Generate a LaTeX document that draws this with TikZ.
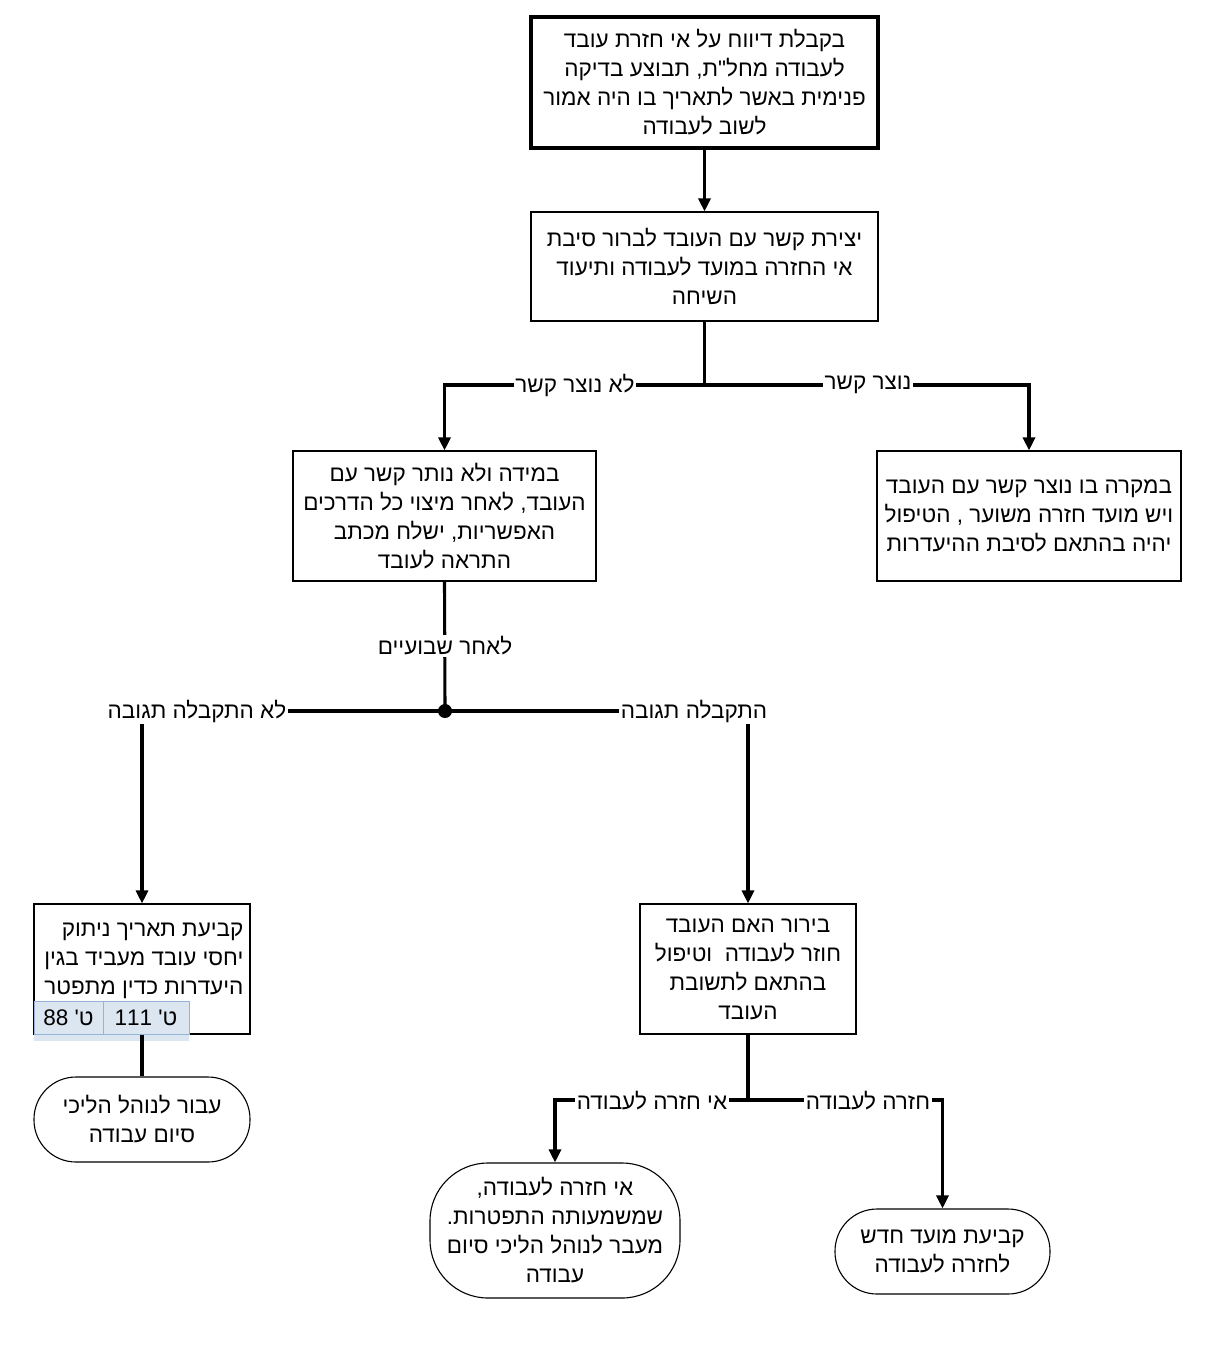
\documentclass[tikz,border=0pt]{standalone}
\usepackage{fontspec}
\usetikzlibrary{arrows.meta}
\TeXXeTstate=1
\newfontfamily\hebfont[Script=Hebrew]{Liberation Sans}
\newcommand{\hebline}[1]{{\beginR #1\endR}}
\definecolor{cellfill}{HTML}{DCE6F1}
\definecolor{celldraw}{HTML}{95B3D7}
\begin{document}
\begin{tikzpicture}[x=1pt,y=-1pt]
\tikzset{
  hebtxt/.style={font=\hebfont\fontsize{22.5}{29}\selectfont},
  box/.style={draw, line width=1.1pt, rectangle, inner sep=0pt, hebtxt, align=center},
  term/.style={box, rounded corners=42pt},
  conn/.style={line width=3.1pt},
  arr/.style={conn, -{Triangle[width=12pt,length=13pt]}},
  lbl/.style={fill=white, inner sep=1.5pt, hebtxt},
  cell/.style={draw=celldraw, fill=cellfill, line width=0.8pt, inner sep=0pt, hebtxt}
}
\useasboundingbox (0,0) rectangle (1214,1359);
\fill[white] (0,0) rectangle (1214,1359);

% boxes
\node[box, line width=3.6pt, minimum width=347pt, minimum height=131pt] (b1) at (704.5,82.5)
 {\hebline{בקבלת דיווח על אי חזרת עובד}\\\hebline{לעבודה מחל"ת, תבוצע בדיקה}\\\hebline{פנימית באשר לתאריך בו היה אמור}\\\hebline{לשוב לעבודה}};
\node[box, minimum width=347pt, minimum height=109pt] (b2) at (704.5,266.5)
 {\hebline{יצירת קשר עם העובד לברור סיבת}\\\hebline{אי החזרה במועד לעבודה ותיעוד}\\\hebline{השיחה}};
\node[box, minimum width=303pt, minimum height=130pt] (b3) at (444.5,516)
 {\hebline{במידה ולא נותר קשר עם}\\\hebline{העובד, לאחר מיצוי כל הדרכים}\\\hebline{האפשריות, ישלח מכתב}\\\hebline{התראה לעובד}};
\node[box, minimum width=304pt, minimum height=130pt] (b4) at (1029,516)
 {\hebline{במקרה בו נוצר קשר עם העובד}\\\hebline{ויש מועד חזרה משוער , הטיפול}\\\hebline{יהיה בהתאם לסיבת ההיעדרות}};
\node[box, minimum width=216pt, minimum height=130pt] (b5) at (142,969) {};
\node[box, draw=none, align=right, anchor=east] (b5t) at (244,961)
 {\hebline{קביעת תאריך ניתוק}\\\hebline{יחסי עובד מעביד בגין}\\\hebline{היעדרות כדין מתפטר}};
\fill[cellfill] (34,1034) rectangle (189,1041);
\node[cell, minimum width=69pt, minimum height=33pt] (c2) at (68.5,1017.5) {\hebline{ט' 88}};
\node[cell, minimum width=86pt, minimum height=33pt] (c1) at (146,1017.5) {\hebline{ט' 111}};
\node[box, minimum width=216pt, minimum height=130pt] (b6) at (748,969)
 {\hebline{בירור האם העובד}\\\hebline{חוזר לעבודה\ \ וטיפול}\\\hebline{בהתאם לתשובת}\\\hebline{העובד}};
\node[term, minimum width=216pt, minimum height=85pt] (t1) at (142,1119.5)
 {\hebline{עבור לנוהל הליכי}\\\hebline{סיום עבודה}};
\node[term, rounded corners=58pt, minimum width=250pt, minimum height=135pt] (t2) at (555,1230.5)
 {\hebline{אי חזרה לעבודה,}\\\hebline{שמשמעותה התפטרות.}\\\hebline{מעבר לנוהל הליכי סיום}\\\hebline{עבודה}};
\node[term, minimum width=215pt, minimum height=85pt] (t3) at (942.5,1251.5)
 {\hebline{קביעת מועד חדש}\\\hebline{לחזרה לעבודה}};

% junctions
\coordinate (j1) at (704.5,385);
\fill (445,711) circle (7pt);
\coordinate (d) at (445,711);
\coordinate (j2) at (748,1100);

% connectors
\draw[arr] (b1) -- (b2);
\draw[conn] (b2.south) -- (j1);
\draw[arr] (j1) -| (b3.north);
\draw[arr] (j1) -| (b4.north);
\draw[conn] (b3.south) -- (d);
\draw[arr] (d) -| (b5.north);
\draw[arr] (d) -| (b6.north);
\draw[conn] (b5.south) -- (t1.north);
\draw[conn] (b6.south) -- (j2);
\draw[arr] (j2) -| (t2.north);
\draw[arr] (j2) -| (t3.north);

% labels
\node[lbl] (l1) at (575,385) {\hebline{לא נוצר קשר}};
\node[lbl] (l2) at (868,385) {\hebline{נוצר קשר}};
\node[lbl] (l3) at (445,646) {\hebline{לאחר שבועיים}};
\node[lbl] (l4) at (197,711) {\hebline{לא התקבלה תגובה}};
\node[lbl] (l5) at (694,711) {\hebline{התקבלה תגובה}};
\node[lbl] (l6) at (652,1101) {\hebline{אי חזרה לעבודה}};
\node[lbl] (l7) at (868,1101) {\hebline{חזרה לעבודה}};
\end{tikzpicture}
\end{document}
